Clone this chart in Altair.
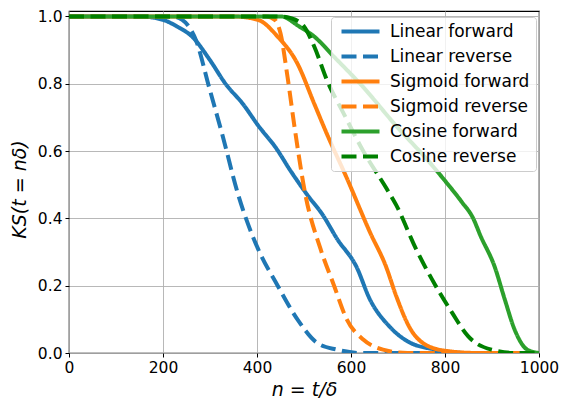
import altair as alt
import pandas as pd

series_names = ["Linear forward", "Linear reverse", "Sigmoid forward",
                "Sigmoid reverse", "Cosine forward", "Cosine reverse"]
series_colors = ["#1f77b4", "#1f77b4", "#ff7f0e", "#ff7f0e", "#2ca02c", "#008000"]

lin_fwd_n = [0, 150, 200, 230, 262, 300, 333, 370, 403, 440, 472, 507, 540, 570, 612, 640, 681, 720, 780, 850, 1000]
lin_fwd_ks = [1, 1, 0.99, 0.97, 0.94, 0.87, 0.80, 0.74, 0.675, 0.61, 0.54, 0.47, 0.41, 0.34, 0.255, 0.16, 0.08, 0.035, 0.01, 0, 0]

lin_rev_n = [0, 220, 241, 255, 270, 298, 326, 360, 402, 444, 486, 528, 570, 620, 1000]
lin_rev_ks = [1, 1, 0.99, 0.97, 0.93, 0.79, 0.65, 0.47, 0.31, 0.2, 0.1, 0.03, 0.01, 0, 0]

sig_fwd_n = [0, 350, 402, 444, 486, 522, 549, 591, 640, 675, 696, 723, 765, 810, 870, 1000]
sig_fwd_ks = [1, 1, 0.99, 0.94, 0.86, 0.74, 0.65, 0.52, 0.36, 0.255, 0.17, 0.08, 0.02, 0.005, 0, 0]

sig_rev_n = [0, 420, 438, 450, 465, 480, 503, 535, 564, 591, 626, 668, 720, 1000]
sig_rev_ks = [1, 1, 0.99, 0.95, 0.82, 0.67, 0.47, 0.31, 0.2, 0.1, 0.04, 0.01, 0, 0]

cos_fwd_n = [0, 420, 451, 490, 522, 564, 626, 696, 765, 801, 835, 860, 875, 906, 927, 948, 975, 1000]
cos_fwd_ks = [1, 1, 1.0, 0.97, 0.94, 0.88, 0.79, 0.675, 0.57, 0.51, 0.45, 0.40, 0.35, 0.255, 0.16, 0.07, 0.01, 0]

cos_rev_n = [0, 450, 472, 500, 522, 549, 585, 626, 675, 696, 738, 780, 815, 849, 899, 950, 1000]
cos_rev_ks = [1, 1, 0.995, 0.97, 0.91, 0.81, 0.71, 0.6, 0.49, 0.44, 0.31, 0.2, 0.12, 0.05, 0.01, 0, 0]

x_ticks = [0, 200, 400, 600, 800, 1000]
y_ticks = [0.0, 0.2, 0.4, 0.6, 0.8, 1.0]

all_n = [lin_fwd_n, lin_rev_n, sig_fwd_n, sig_rev_n, cos_fwd_n, cos_rev_n]
all_ks = [lin_fwd_ks, lin_rev_ks, sig_fwd_ks, sig_rev_ks, cos_fwd_ks, cos_rev_ks]

rows = []
for idx, (name, ns, ks) in enumerate(zip(series_names, all_n, all_ks)):
    for i, (n, k) in enumerate(zip(ns, ks)):
        rows.append({"series": name, "n": n, "ks": k, "order": i, "sidx": idx})
df = pd.DataFrame(rows)

solid = [1, 0]
dashed = [15, 6.5]
dash_range = [solid, dashed, solid, dashed, solid, dashed]

FONT = "DejaVu Sans"

chart = alt.Chart(df).mark_line(strokeWidth=4, interpolate="monotone", clip=True).encode(
    x=alt.X("n:Q", scale=alt.Scale(domain=[0, 1000], nice=False, zero=False),
            axis=alt.Axis(values=x_ticks, format="d", labelFlush=False, title="n = t/δ",
                          titleX=235, titleY=36,
                          titleBaseline="middle", titleAlign="center")),
    y=alt.Y("ks:Q", scale=alt.Scale(domain=[0, 1.0162], nice=False, zero=False),
            axis=alt.Axis(values=y_ticks, format=".1f", labelFlush=False, title="KS(t = nδ)",
                          titleX=-50, titleY=178, titleAngle=270,
                          titleBaseline="middle", titleAlign="center")),
    color=alt.Color("series:N", scale=alt.Scale(domain=series_names, range=series_colors),
                    legend=alt.Legend(title=None, orient="none", legendX=262, legendY=6,
                                      symbolType="M-1,0H8.5", symbolSize=64,
                                      symbolStrokeWidth=4, labelOffset=36,
                                      labelFontSize=17, labelFont=FONT, labelColor="black",
                                      rowPadding=7, padding=6,
                                      fillColor="rgba(255,255,255,0.8)",
                                      strokeColor="#cccccc", cornerRadius=3)),
    strokeDash=alt.StrokeDash("series:N", scale=alt.Scale(domain=series_names, range=dash_range),
                              legend=alt.Legend(title=None)),
    order="order:Q",
).properties(
    width=470, height=342,
    padding={"left": 61, "top": 3, "right": 20, "bottom": 46},
    autosize="none",
).configure_view(
    stroke="black", strokeWidth=1.2
).configure_axis(
    grid=True, gridColor="#b0b0b0", gridWidth=0.9,
    domain=False, tickColor="black", tickSize=4, tickWidth=1,
    labelFont=FONT, labelFontSize=15.5, labelColor="black", labelPadding=3,
    titleFont=FONT, titleFontSize=19, titleFontStyle="italic", titleFontWeight="normal",
    titleColor="black"
)

chart.save("out.html", embed_options={"renderer": "svg", "actions": False})
